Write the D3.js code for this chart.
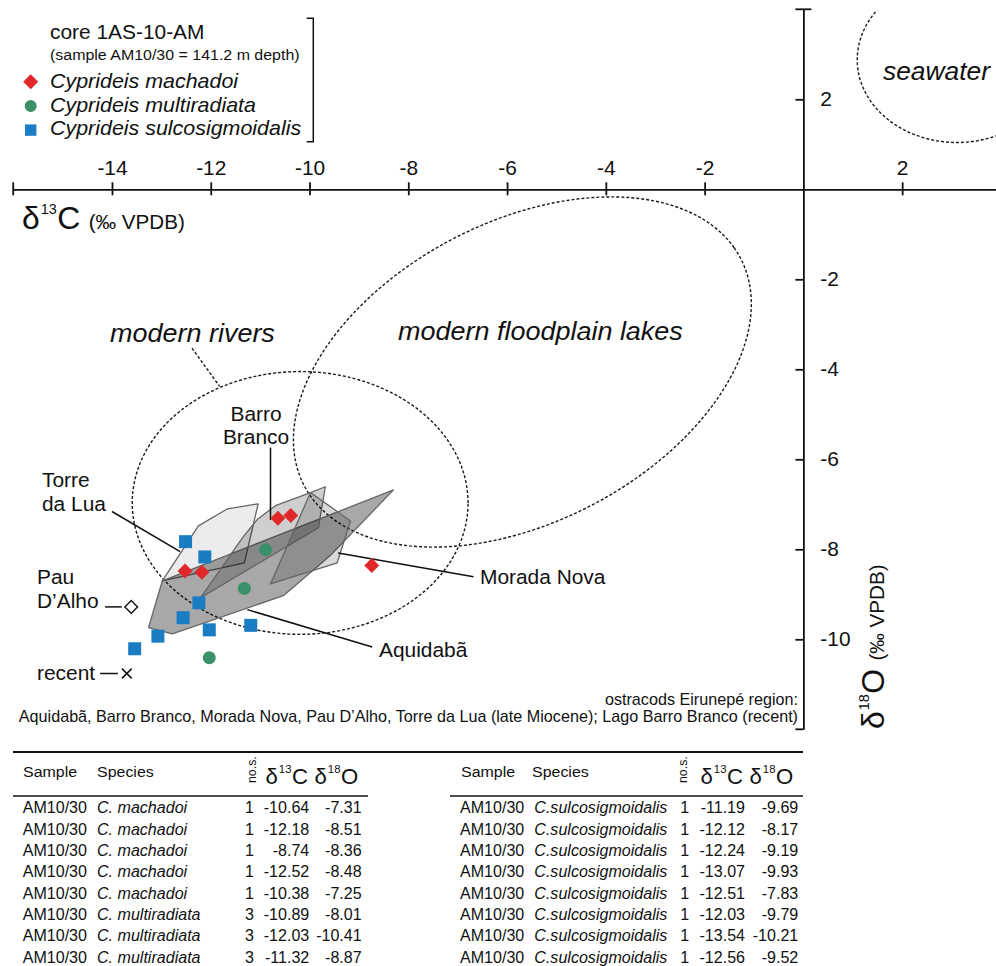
<!DOCTYPE html>
<html>
<head>
<meta charset="utf-8">
<script src="https://cdnjs.cloudflare.com/ajax/libs/d3/7.8.5/d3.min.js"></script>
<style>
body { margin: 0; background: #fff; }
svg { display: block; font-family: "Liberation Sans", Arial, sans-serif; }
</style>
</head>
<body>
<svg id="chart" width="996" height="966"></svg>
<script>
// core 1AS-10-AM, sample AM10/30 : [d13C, d18O]
var sampleId = "AM10/30";
var machadoi = [[-10.64, -7.31], [-12.18, -8.51], [-8.74, -8.36], [-12.52, -8.48], [-10.38, -7.25]];
var multiradiata = [[-10.89, -8.01], [-12.03, -10.41], [-11.32, -8.87]];
var sulcosigmoidalis = [[-11.19, -9.69], [-12.12, -8.17], [-12.24, -9.19], [-13.07, -9.93],
                        [-12.51, -7.83], [-12.03, -9.79], [-13.54, -10.21], [-12.56, -9.52]];
var nosMachadoi = 1, nosMultiradiata = 3, nosSulco = 1;
var speciesLegend = ["Cyprideis machadoi", "Cyprideis multiradiata", "Cyprideis sulcosigmoidalis"];
var speciesTable = ["C. machadoi", "C. multiradiata", "C.sulcosigmoidalis"];

// ostracod fields, Eirunepé region (late Miocene)
var torreDaLua = [[-12.98, -8.70], [-12.25, -7.48], [-11.66, -7.10], [-11.04, -6.99], [-11.32, -8.30]];
var aquidaba = [[-13.26, -9.74], [-12.78, -9.88], [-10.53, -9.03], [-9.58, -8.14], [-8.30, -6.68], [-12.98, -8.70]];
var barroBranco = [[-12.21, -9.08], [-11.34, -7.72], [-11.06, -7.34], [-10.69, -7.03], [-9.98, -6.74], [-9.68, -6.61], [-9.82, -7.52]];
var moradaNova = [[-9.98, -6.74], [-9.17, -7.37], [-9.44, -8.30], [-10.79, -8.77]];
var pauDAlho = [-13.61, -9.28];
var recentLago = [-13.70, -10.76];

// reference fields: centre C, centre O, semi axis a, semi axis b, rotation (deg)
var riversField = [-10.19, -6.97, 3.40, 2.92, 0];
var lakesField = [-5.69, -4.06, 5.10, 3.26, 32.8];
var seawaterField = [3.11, 2.88, 2.02, 1.84, 0];

var xTicks = [-14, -12, -10, -8, -6, -4, -2, 2];
var yTicks = [2, -2, -4, -6, -8, -10];

var SX = 1.03;  // the figure's lettering is a touch wider than Arial
var red = "#e0282a", green = "#3a9068", blue = "#1a7cc3";

var svg = d3.select("#chart");

var x = d3.scaleLinear().domain([-16, 3.9]).range([13.2, 996]);
var y = d3.scaleLinear().domain([-12, 4]).range([729.3, 9.3]);

function label(g, px, py, str, size, o) {
    o = o || {};
    return g.append("text")
        .attr("transform", "translate(" + px + "," + py + ")" + (o.rotate ? " rotate(" + o.rotate + ")" : "") + " scale(" + SX + ",1)")
        .attr("text-anchor", o.anchor || "start")
        .style("font-size", size + "px")
        .style("font-style", o.italic ? "italic" : null)
        .attr("fill", "#111")
        .text(str);
}

function deltaLabel(g, px, py, iso, el, big, small, unitSize, rotate) {
    var t = g.append("text")
        .attr("transform", "translate(" + px + "," + py + ")" + (rotate ? " rotate(" + rotate + ")" : "") + " scale(" + SX + ",1)")
        .attr("fill", "#111");
    t.append("tspan").style("font-size", big + "px").text("δ");
    t.append("tspan").style("font-size", small + "px").attr("dx", 1).attr("dy", -big * 0.5).text(iso);
    t.append("tspan").style("font-size", big + "px").attr("dx", 0.5).attr("dy", big * 0.5).text(el);
    if (unitSize) t.append("tspan").style("font-size", unitSize + "px").attr("dx", 8).text("(‰ VPDB)");
    return t;
}

function ellipsePts(f) {
    var phi = f[4] * Math.PI / 180;
    return d3.range(0, 360, 2).map(function (a) {
        var t = a * Math.PI / 180;
        return [f[0] + f[2] * Math.cos(t) * Math.cos(phi) - f[3] * Math.sin(t) * Math.sin(phi),
                f[1] + f[2] * Math.cos(t) * Math.sin(phi) + f[3] * Math.sin(t) * Math.cos(phi)];
    });
}

var line = d3.line().x(function (d) { return x(d[0]); }).y(function (d) { return y(d[1]); });
var ringLine = d3.line().x(function (d) { return x(d[0]); }).y(function (d) { return y(d[1]); }).curve(d3.curveLinearClosed);

svg.append("defs").append("clipPath").attr("id", "plotclip")
    .append("rect").attr("x", 0).attr("y", y(4) + 1.5).attr("width", 996).attr("height", 760);

// axes
var xAxis = svg.append("g").attr("transform", "translate(0," + y(0) + ")")
    .call(d3.axisTop(x).tickValues(xTicks).tickSize(0).tickSizeOuter(0).tickPadding(14)
        .tickFormat(function (d) { return String(d); }));
xAxis.selectAll(".tick").append("line").attr("y1", -7).attr("y2", 6);
xAxis.append("line").attr("x1", x(-16)).attr("x2", x(-16)).attr("y1", -7).attr("y2", 6);

var yAxis = svg.append("g").attr("transform", "translate(" + x(0) + ",0)")
    .call(d3.axisRight(y).tickValues(yTicks).tickSize(0).tickSizeOuter(0).tickPadding(16.5)
        .tickFormat(function (d) { return String(d); }));
yAxis.selectAll(".tick").append("line").attr("x1", -8).attr("x2", 0);
yAxis.append("line").attr("x1", -8).attr("x2", 8).attr("y1", y(4)).attr("y2", y(4));
yAxis.append("line").attr("x1", -8).attr("x2", 0).attr("y1", y(-12)).attr("y2", y(-12));

[xAxis, yAxis].forEach(function (g) {
    g.select(".domain").attr("stroke", "#111").attr("stroke-width", 1.8);
    g.selectAll("line").attr("stroke", "#111").attr("stroke-width", 1.8);
    g.selectAll("text").attr("fill", "#111").style("font-size", "20.3px")
        .style("font-family", "'Liberation Sans', Arial, sans-serif")
        .attr("transform", "scale(" + SX + ",1)");
});

deltaLabel(svg, 22, 229, "13", "C", 31, 14, 20, 0);
deltaLabel(svg, 884, 729, "18", "O", 31, 14, 20, -90);

// reference fields (dotted)
var plot = svg.append("g").attr("clip-path", "url(#plotclip)");
[riversField, lakesField, seawaterField].forEach(function (f) {
    plot.append("path").attr("d", ringLine(ellipsePts(f)))
        .attr("fill", "none").attr("stroke", "#1a1a1a").attr("stroke-width", 1.4)
        .attr("stroke-dasharray", "3,2");
});
svg.append("path").attr("d", line([[-12.38, -3.53], [-11.82, -4.38]]))
    .attr("stroke", "#1a1a1a").attr("stroke-width", 1.4).attr("stroke-dasharray", "3,2");

label(svg, 110, 342, "modern rivers", 26.2, { italic: true });
label(svg, 398, 340, "modern floodplain lakes", 26.2, { italic: true });
label(svg, 883, 80, "seawater", 25.6, { italic: true });

// locality fields
var fields = [[torreDaLua, 0.075], [aquidaba, 0.34], [barroBranco, 0.19], [moradaNova, 0.15]];
fields.forEach(function (f) {
    svg.append("path").attr("d", ringLine(f[0]))
        .attr("fill", "#000").attr("fill-opacity", f[1])
        .attr("stroke", "#666").attr("stroke-width", 1.3).attr("stroke-linejoin", "round");
});

// leader lines
var leaders = [
    [[-10.79, -5.74], [-10.79, -7.35]],
    [[-14.0, -7.16], [-12.62, -8.05]],
    [[-9.42, -8.08], [-6.68, -8.61]],
    [[-11.26, -9.34], [-8.73, -10.17]],
    [[-14.14, -9.28], [-13.80, -9.28]],
    [[-14.24, -10.76], [-13.88, -10.76]]
];
leaders.forEach(function (l) {
    svg.append("path").attr("d", line(l)).attr("stroke", "#111").attr("stroke-width", 1.5);
});

label(svg, 256, 420.7, "Barro", 20.3, { anchor: "middle" });
label(svg, 256, 444.3, "Branco", 20.3, { anchor: "middle" });
label(svg, 42, 486.7, "Torre", 20.3);
label(svg, 42, 511, "da Lua", 20.3);
label(svg, 37, 584, "Pau", 20.3);
label(svg, 37, 607.7, "D’Alho", 20.3);
label(svg, 37, 680, "recent", 20.3);
label(svg, 480, 584.3, "Morada Nova", 20.3);
label(svg, 379, 656.7, "Aquidabã", 20.3);

// Pau D'Alho and recent Lago Barro Branco
svg.append("path").attr("d", d3.symbol(d3.symbolSquare, 80)())
    .attr("transform", "translate(" + x(pauDAlho[0]) + "," + y(pauDAlho[1]) + ") rotate(45)")
    .attr("fill", "#fff").attr("stroke", "#111").attr("stroke-width", 1.4);
svg.append("path").attr("d", d3.symbol(d3.symbolX, 64)())
    .attr("transform", "translate(" + x(recentLago[0]) + "," + y(recentLago[1]) + ")")
    .attr("fill", "none").attr("stroke", "#111").attr("stroke-width", 1.5);

// samples
var diamond = d3.symbol(d3.symbolSquare, 112)();
var circle = d3.symbol(d3.symbolCircle, 133)();
var square = d3.symbol(d3.symbolSquare, 169)();

svg.selectAll(".mach").data(machadoi).enter().append("path")
    .attr("d", diamond).attr("fill", red)
    .attr("transform", function (d) { return "translate(" + x(d[0]) + "," + y(d[1]) + ") rotate(45)"; });
svg.selectAll(".multi").data(multiradiata).enter().append("path")
    .attr("d", circle).attr("fill", green)
    .attr("transform", function (d) { return "translate(" + x(d[0]) + "," + y(d[1]) + ")"; });
svg.selectAll(".sulco").data(sulcosigmoidalis).enter().append("path")
    .attr("d", square).attr("fill", blue)
    .attr("transform", function (d) { return "translate(" + x(d[0]) + "," + y(d[1]) + ")"; });

// legend
label(svg, 50, 39.3, "core 1AS-10-AM", 20.3);
label(svg, 50, 60, "(sample AM10/30 = 141.2 m depth)", 15.5);
var legMarks = [[diamond, red, 45], [d3.symbol(d3.symbolCircle, 113)(), green, 0], [d3.symbol(d3.symbolSquare, 130)(), blue, 0]];
speciesLegend.forEach(function (s, i) {
    svg.append("path").attr("d", legMarks[i][0]).attr("fill", legMarks[i][1])
        .attr("transform", "translate(30.7," + (81.7 + i * 24.2) + ") rotate(" + legMarks[i][2] + ")");
    label(svg, 50, 88.3 + i * 23.4, s, 20.8, { italic: true });
});
svg.append("path").attr("d", "M306.7,18.3H313.3V141.7H306.7")
    .attr("fill", "none").attr("stroke", "#111").attr("stroke-width", 1.5);

label(svg, 798, 705, "ostracods Eirunepé region:", 15.7, { anchor: "end" });
label(svg, 798, 721.7, "Aquidabã, Barro Branco, Morada Nova, Pau D’Alho, Torre da Lua (late Miocene); Lago Barro Branco (recent)", 15.7, { anchor: "end" });

// table
var fmt = function (v) { return v.toFixed(2); };
var leftRows = machadoi.map(function (d) { return [sampleId, speciesTable[0], nosMachadoi, d[0], d[1]]; })
    .concat(multiradiata.map(function (d) { return [sampleId, speciesTable[1], nosMultiradiata, d[0], d[1]]; }));
var rightRows = sulcosigmoidalis.map(function (d) { return [sampleId, speciesTable[2], nosSulco, d[0], d[1]]; });

svg.append("line").attr("x1", 13).attr("x2", 803).attr("y1", 752).attr("y2", 752)
    .attr("stroke", "#111").attr("stroke-width", 2);

var tables = [
    { rows: leftRows, cols: [22.7, 97, 254, 309.3, 361.7], head: [23, 97, 256, 265.5, 314.5], rule: [13, 368] },
    { rows: rightRows, cols: [460, 534.3, 689.3, 745, 798.3], head: [461, 532, 687, 700.5, 749.5], rule: [450, 803] }
];
tables.forEach(function (tb) {
    label(svg, tb.head[0], 777, "Sample", 15.5);
    label(svg, tb.head[1], 777, "Species", 15.5);
    label(svg, tb.head[2], 783, "no.s.", 12, { rotate: -90 });
    deltaLabel(svg, tb.head[3], 784, "13", "C", 21.5, 11, 0, 0);
    deltaLabel(svg, tb.head[4], 784, "18", "O", 21.5, 11, 0, 0);
    svg.append("line").attr("x1", tb.rule[0]).attr("x2", tb.rule[1]).attr("y1", 796).attr("y2", 796)
        .attr("stroke", "#111").attr("stroke-width", 1.5);
    tb.rows.forEach(function (r, i) {
        var by = 813.3 + i * 21.34;
        label(svg, tb.cols[0], by, r[0], 15.6);
        label(svg, tb.cols[1], by, r[1], 15.6, { italic: true });
        label(svg, tb.cols[2], by, String(r[2]), 15.6, { anchor: "end" });
        label(svg, tb.cols[3], by, fmt(r[3]), 15.6, { anchor: "end" });
        label(svg, tb.cols[4], by, fmt(r[4]), 15.6, { anchor: "end" });
    });
});
</script>
</body>
</html>
